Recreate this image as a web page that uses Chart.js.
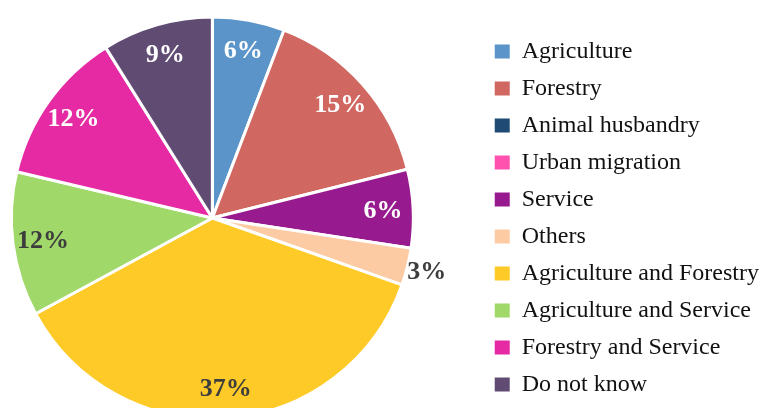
<!DOCTYPE html>
<html>
<head>
<meta charset="utf-8">
<script src="https://cdn.jsdelivr.net/npm/chart.js@4"></script>
<style>
  html, body { margin: 0; padding: 0; background: #fff; overflow: hidden; width: 761px; height: 408px; }
  #wrap { position: absolute; left: -57px; top: 0; width: 826px; height: 440px; }
</style>
</head>
<body>
<div id="wrap"><canvas id="sectorPie"></canvas></div>
<script>
const categories = [
  'Agriculture', 'Forestry', 'Animal husbandry', 'Urban migration', 'Service',
  'Others', 'Agriculture and Forestry', 'Agriculture and Service',
  'Forestry and Service', 'Do not know'
];
const shares = [5.8, 15.3, 0, 0, 6.3, 3.0, 36.7, 11.6, 12.4, 8.9];
const sliceColors = [
  '#5B94C8', '#D06761', '#1F4A73', '#FF52AE', '#971B8F',
  '#FDCBA3', '#FECA27', '#A0D86A', '#E52AA3', '#604C73'
];
// which slices get dark text, and which label sits outside the pie
const darkText = ['Others', 'Agriculture and Forestry', 'Agriculture and Service'];
const outsideLabel = ['Others'];

const serif = "'Liberation Serif', 'DejaVu Serif', serif";

const pctLabels = {
  id: 'pctLabels',
  afterDatasetsDraw(chart) {
    const ctx = chart.ctx;
    const meta = chart.getDatasetMeta(0);
    ctx.save();
    ctx.font = 'bold 26px ' + serif;
    ctx.textAlign = 'center';
    ctx.textBaseline = 'middle';
    meta.data.forEach((arc, i) => {
      const v = shares[i];
      if (!v) return;
      const mid = (arc.startAngle + arc.endAngle) / 2;
      const f = outsideLabel.includes(categories[i]) ? 1.1 : 0.85;
      const r = arc.outerRadius * f;
      ctx.fillStyle = darkText.includes(categories[i]) ? '#3d3d3d' : '#ffffff';
      ctx.fillText(Math.round(v) + '%', arc.x + Math.cos(mid) * r, arc.y + Math.sin(mid) * r + 1);
    });
    ctx.restore();
  }
};

const ctx = document.getElementById('sectorPie');
new Chart(ctx, {
  type: 'pie',
  data: {
    labels: categories,
    datasets: [{
      data: shares,
      backgroundColor: sliceColors,
      borderColor: '#ffffff',
      borderWidth: 3
    }]
  },
  options: {
    responsive: true,
    maintainAspectRatio: false,
    animation: false,
    layout: { padding: { left: 0, right: 0, top: 15.5, bottom: 19.5 } },
    plugins: {
      tooltip: { enabled: false },
      legend: {
        position: 'right',
        align: 'center',
        labels: {
          boxWidth: 15,
          boxHeight: 14,
          padding: 13,
          color: '#111',
          font: { family: serif, size: 24 },
          generateLabels: function(chart) {
            const base = Chart.overrides.pie.plugins.legend.labels.generateLabels(chart);
            return base.map(item => Object.assign(item, { lineWidth: 0 }));
          }
        }
      }
    }
  },
  plugins: [pctLabels]
});
</script>
</body>
</html>
